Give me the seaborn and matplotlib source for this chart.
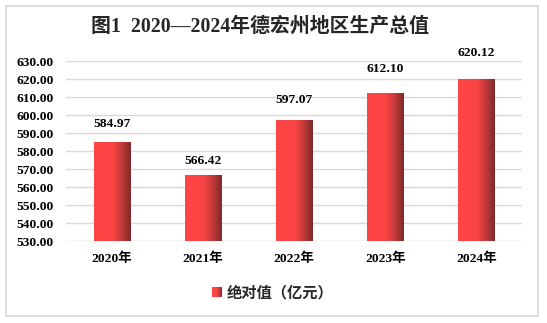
import numpy as np
import pandas as pd
import matplotlib
matplotlib.use("Agg")
import matplotlib.pyplot as plt
from matplotlib.colors import LinearSegmentedColormap
from matplotlib.patches import Rectangle
import seaborn as sns

years = ["2020年", "2021年", "2022年", "2023年", "2024年"]
values = [584.97, 566.42, 597.07, 612.10, 620.12]
yticks = [530, 540, 550, 560, 570, 580, 590, 600, 610, 620, 630]
title = "图1  2020—2024年德宏州地区生产总值"
legend_label = "绝对值（亿元）"

sns.set_theme(style="white")
serif = ["Liberation Serif", "Noto Sans CJK SC"]
plt.rcParams["font.family"] = serif

W, H = 547, 323
fig = plt.figure(figsize=(W / 100, H / 100), dpi=100)
ax = fig.add_axes([66 / W, 1 - 241 / H, (522 - 66) / W, (241 - 61) / H])

df = pd.DataFrame({"year": years, "value": values})
sns.barplot(data=df, x="year", y="value", ax=ax, width=0.395,
            color="#ff4444", saturation=1, zorder=2)
ax.set_ylim(530, 630)
ax.set_xlim(-0.5, len(years) - 0.5)
ax.set_yticks(yticks)
ax.set_yticklabels([f"{v:.2f}" for v in yticks])
ax.set_xlabel("")
ax.set_ylabel("")
for s in ax.spines.values():
    s.set_visible(False)
ax.grid(axis="y", color="#d9d9d9", lw=1, zorder=0)
ax.set_axisbelow(True)
ax.tick_params(axis="both", length=0, labelsize=9.7, pad=9)
ax.tick_params(axis="x", pad=8)
for lab in ax.get_yticklabels() + ax.get_xticklabels():
    lab.set_fontweight("bold")
    lab.set_color("black")

# horizontal gradient fill for each bar
cmap = LinearSegmentedColormap.from_list(
    "bar", [(0, "#ff4646"), (0.5, "#fb4444"), (0.75, "#c53a3a"), (1, "#7c2a2a")])
grad = np.linspace(0, 1, 256).reshape(1, -1)
ymin = yticks[0]
for patch, v in zip(ax.patches, values):
    x0, w = patch.get_x(), patch.get_width()
    patch.set_facecolor("none")
    patch.set_edgecolor("none")
    im = ax.imshow(grad, cmap=cmap, aspect="auto", extent=[x0, x0 + w, ymin, v],
                   zorder=3, interpolation="bicubic")
    im.set_clip_path(patch)
    # value labels sit progressively higher above taller bars
    ax.text(x0 + w / 2, v + 3.4 + 0.12 * (v - ymin), f"{v:.2f}",
            ha="center", va="center", fontsize=9.7, fontweight="bold",
            color="black", clip_on=False)
ax.set_xlim(-0.5, len(years) - 0.5)
ax.set_ylim(530, 630)

fig.text(260 / W, 1 - 27 / H, title, ha="center", va="center",
         fontsize=14.3, fontweight="bold", family=serif)

# legend
lx, ly = 212, 292
leg_grad = np.linspace(0, 1, 64).reshape(1, -1)
lax = fig.add_axes([lx / W, 1 - (ly + 5) / H, 10 / W, 10 / H])
lax.imshow(leg_grad, cmap=cmap, aspect="auto")
lax.axis("off")
fig.text((lx + 15) / W, 1 - ly / H, legend_label, ha="left", va="center",
         fontsize=11, fontweight="bold", family=["Noto Sans CJK SC", "DejaVu Sans"])

# chart border
fig.patches.append(Rectangle((5.5 / W, 1 - 315.5 / H), 532.5 / W, 310 / H,
                             transform=fig.transFigure, fill=False,
                             edgecolor="#d9d9d9", lw=1.2))

fig.savefig("out.png", dpi=100)
